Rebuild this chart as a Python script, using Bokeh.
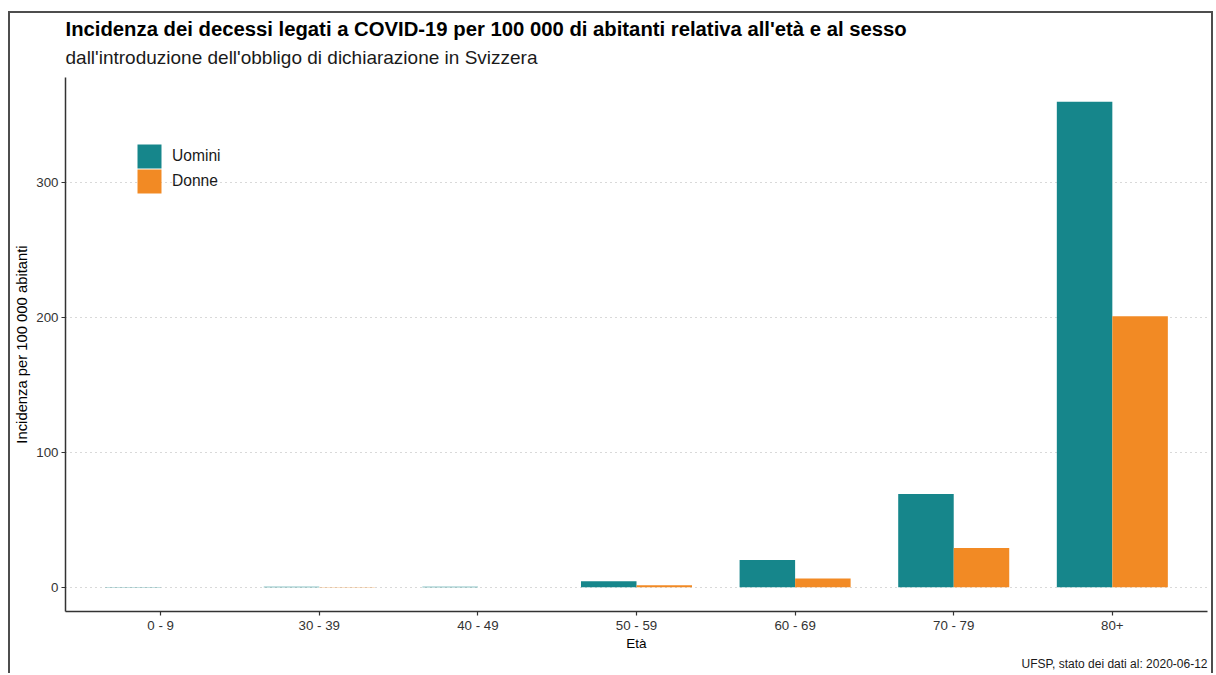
from bokeh.plotting import figure
from bokeh.models import Range1d, FixedTicker, Title, Legend, LegendItem, ColumnDataSource
from bokeh.transform import dodge
from bokeh.embed import file_html
from bokeh.resources import INLINE

categories = ["0 - 9", "30 - 39", "40 - 49", "50 - 59", "60 - 69", "70 - 79", "80+"]
uomini = [0.2, 0.3, 0.4, 4.4, 20.2, 69.2, 360.0]
donne = [0.0, 0.2, 0.0, 1.5, 6.4, 29.0, 201.0]
y_ticks = [0, 100, 200, 300]

title_text = "Incidenza dei decessi legati a COVID-19 per 100 000 di abitanti relativa all'età e al sesso"
subtitle_text = "dall'introduzione dell'obbligo di dichiarazione in Svizzera"
caption_text = "UFSP, stato dei dati al: 2020-06-12"

FONT = "Liberation Sans"
TEAL = "#16868b"
ORANGE = "#f28a24"

idx = list(range(len(categories)))
src = ColumnDataSource(dict(x=idx, uomini=uomini, donne=donne))

ymax = max(uomini + donne)
p = figure(width=1205, height=662,
           x_range=Range1d(-0.6, len(categories) - 0.4),
           y_range=Range1d(-0.05 * ymax, 1.05 * ymax),
           output_backend="svg", toolbar_location=None,
           min_border_left=55, min_border_right=8, min_border_top=64, min_border_bottom=64)
p.margin = (11, 0, 0, 8)
p.outline_line_color = None
p.background_fill_color = "white"
p.border_fill_color = "white"
p.styles = {"border-left": "2px solid #4d4d4d", "border-top": "2px solid #4d4d4d",
            "border-right": "2px solid #4d4d4d"}

r1 = p.vbar(x=dodge("x", -0.175, range=p.x_range), top="uomini", width=0.35, source=src,
            fill_color=TEAL, line_color=None)
r2 = p.vbar(x=dodge("x", 0.175, range=p.x_range), top="donne", width=0.35, source=src,
            fill_color=ORANGE, line_color=None)

# titles
sub = Title(text=subtitle_text, text_font=FONT, text_font_size="19px", text_font_style="normal",
            text_color="#1a1a1a", align="left", standoff=20)
p.add_layout(sub, "above")
main = Title(text=title_text, text_font=FONT, text_font_size="20.3px", text_font_style="bold",
             text_color="#000000", align="left", standoff=-11)
p.add_layout(main, "above")
cap = Title(text=caption_text, text_font=FONT, text_font_size="12px", text_font_style="normal",
            text_color="#1a1a1a", align="right", standoff=3)
p.add_layout(cap, "below")

# axes
p.xaxis.ticker = FixedTicker(ticks=idx)
p.xaxis.major_label_overrides = {i: c for i, c in zip(idx, categories)}
p.yaxis.ticker = FixedTicker(ticks=y_ticks)
p.xaxis.axis_label = "Età"
p.yaxis.axis_label = "Incidenza per 100 000 abitanti"
for ax in (p.xaxis, p.yaxis):
    ax.axis_line_color = "#333333"
    ax.axis_line_width = 1.5
    ax.major_tick_line_color = "#333333"
    ax.major_tick_line_width = 1.2
    ax.major_tick_out = 4
    ax.major_tick_in = 0
    ax.minor_tick_line_color = None
    ax.major_label_text_font = FONT
    ax.major_label_text_font_size = "13.3px"
    ax.major_label_text_color = "#333333"
    ax.axis_label_text_font = FONT
    ax.axis_label_text_font_style = "normal"
    ax.axis_label_text_color = "#000000"
p.xaxis.axis_label_text_font_size = "13.5px"
p.yaxis.axis_label_text_font_size = "14.8px"
p.xaxis.major_label_standoff = 2
p.xaxis.axis_label_standoff = 0
p.yaxis.major_label_standoff = 3
p.yaxis.axis_label_standoff = 3

p.xgrid.grid_line_color = None
p.ygrid.grid_line_color = "#b3b3b3"
p.ygrid.grid_line_dash = "1 4"
p.ygrid.grid_line_width = 1

legend_style = dict(padding=0, margin=0, spacing=0,
                    glyph_width=30, glyph_height=30, label_height=30, label_standoff=8,
                    label_text_font=FONT, label_text_font_size="15.6px", label_text_color="#1a1a1a",
                    border_line_color=None, background_fill_alpha=0)
legend_u = Legend(items=[LegendItem(label="Uomini", renderers=[r1])], location=(69, 440), **legend_style)
legend_d = Legend(items=[LegendItem(label="Donne", renderers=[r2])], location=(69, 415), **legend_style)
p.add_layout(legend_u, "center")
p.add_layout(legend_d, "center")

open("out.html", "w").write(file_html(p, INLINE))
